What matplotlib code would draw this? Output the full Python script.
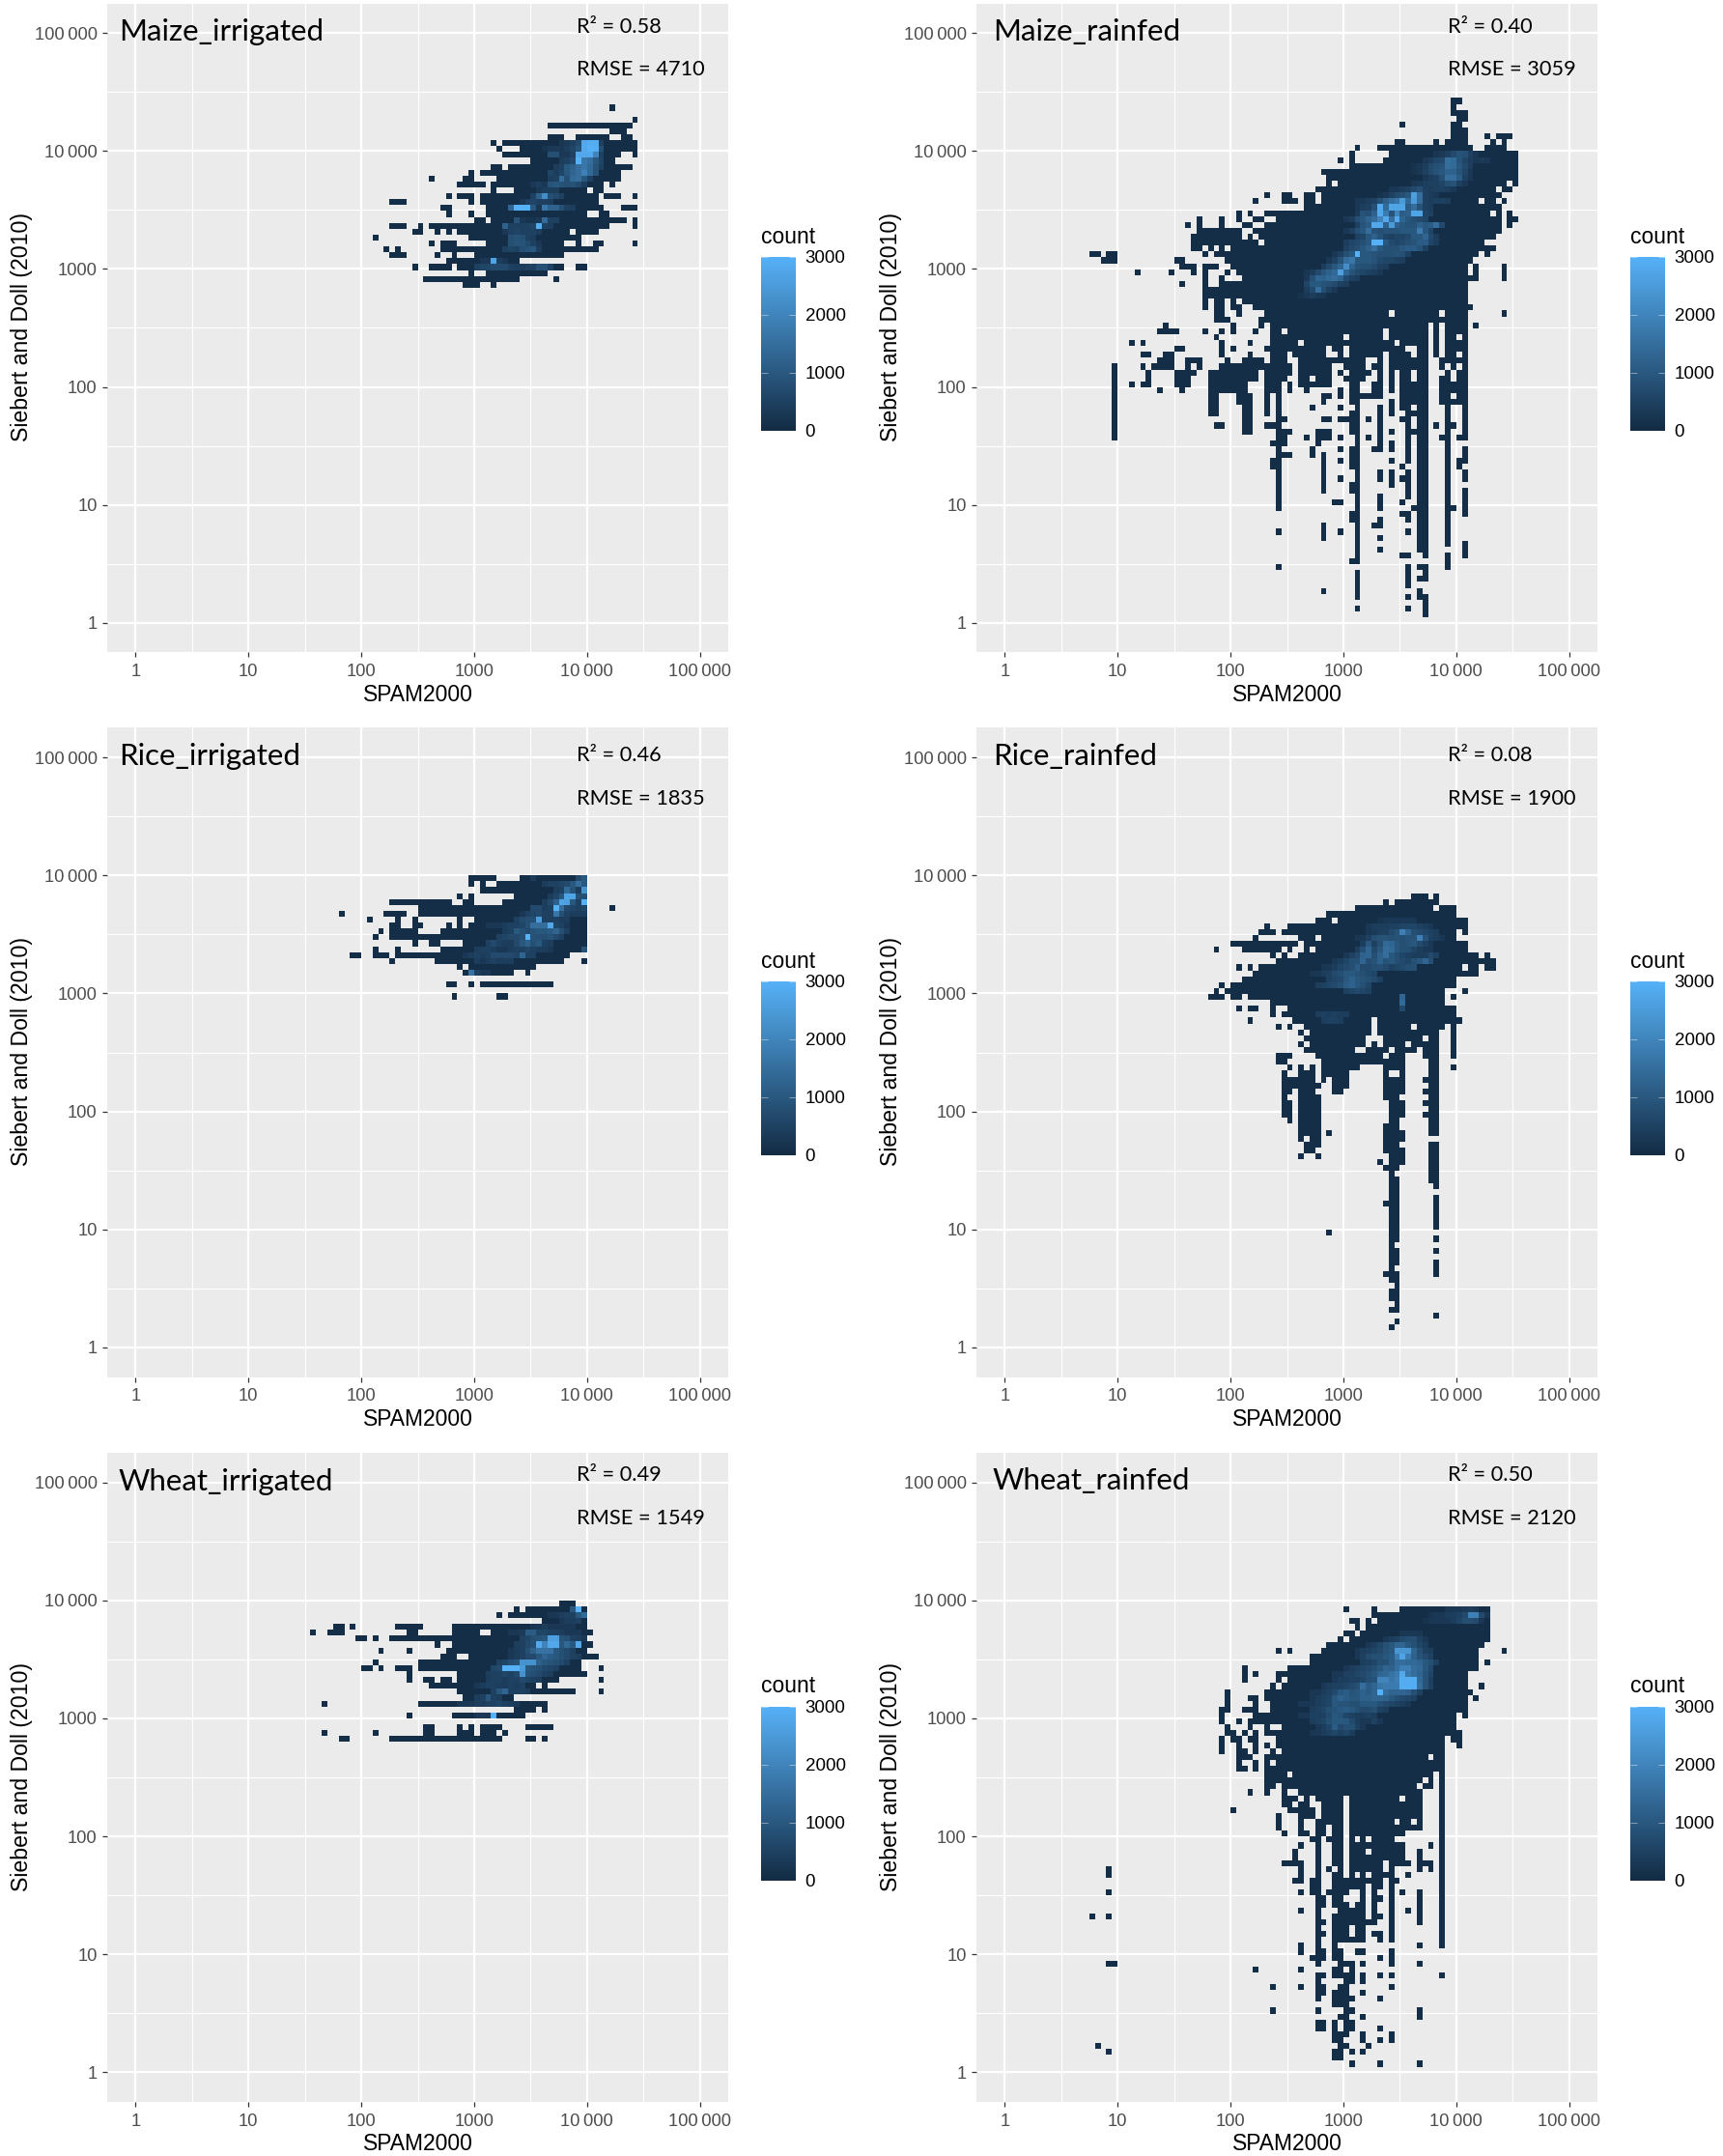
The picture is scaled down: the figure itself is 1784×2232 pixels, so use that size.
import numpy as np
import matplotlib
matplotlib.use('Agg')
from matplotlib import pyplot as plt
from matplotlib.colors import LinearSegmentedColormap
from matplotlib.ticker import NullFormatter

plt.rcParams['font.family'] = ['Liberation Sans', 'DejaVu Sans']

# every string lists the occupied bins of one row of the 2d histogram (top row first),
# bins are 0.05 log10 wide, bin 0 starts at x = 1
maize_irr_rows = [
    "84", "", "88", "73-87", "84-86", "73-75 78-83 86-87", "63 65-88", "64 68-88", "65-85 88", "70-84",
    "63-64 66-87", "59 61-85", "52 58-59 64-85", "57-61 63-82 84", "63 67-79 81-82",
    "55 57-59 61-81 83-85 88", "45-47 59 61-81", "54-55 62-82 86-88", "55 59 62-79 82-83",
    "60-61 63-86 88", "45-47 50 52-83 88", "49-50 53 55 57-76 78-81", "42 59-75 76-78",
    "52 54-56 62-75 78 81-82 88", "44 46 54-81", "45-47 53 56 60-75", "55-67", "49 52-55 57-75 78-79",
    "59 62-72", "51-67 74", "58-60 63",
]
maize_irr_hot = [
    (6, 75, [250, 350, 500, 700, 2800, 2900, 2900, 500]), (7, 72, [200, 350, 350, 300, 400, 600, 900, 2800, 3000, 2900, 800]),
    (8, 73, [800, 800, 300, 300, 500, 2800, 2800, 2800, 2000, 500]), (9, 75, [400, 500, 700, 3000, 1700, 1500, 1000, 600]),
    (10, 74, [400, 500, 1000, 1200, 1500, 1700, 1400, 900, 500]), (11, 73, [600, 400, 600, 1000, 1300, 1500, 1900, 1400, 900]),
    (12, 73, [400, 500, 1500, 800, 1400, 1500, 1000, 500]), (13, 70, [300, 400, 300, 900, 1000, 900, 800, 900, 700, 400]),
    (14, 71, [300, 400, 400, 400]), (15, 70, [500, 1200, 2200, 800, 700, 500]), (16, 68, [300, 500, 600, 500, 500, 400]),
    (17, 66, [1300, 3000, 3000, 3000, 1000, 300, 1700, 1200, 1200, 800, 500, 400]), (19, 67, [900, 300, 200, 200, 300, 1400, 500, 500]),
    (20, 65, [1200, 500, 500, 500, 500, 600, 2900, 500, 400]), (21, 65, [300, 500, 600, 500, 500, 500, 400]),
    (22, 66, [800, 900, 800, 500, 400]), (23, 66, [800, 900, 900, 700, 500, 300]), (24, 65, [500, 600, 500, 800, 900, 1000, 400]),
    (26, 61, [300, 300, 2700, 400, 300]), (27, 60, [500, 600, 600, 700, 700, 700, 500, 400, 400, 500, 500, 800, 800, 500]),
]

maize_rain_rows = [
    "79-80", "79", "79-81", "80-81", "70 79-80", "79-81", "79-81 85 87-89", "69-70 76 78-81 86 88",
    "62 66-82 85-88", "61 68-90", "59 61 67-90", "61-90", "56-90", "57-90", "57 59-88 90", "55-86 88-89",
    "46 49-50 53-54 56-87", "44 49-51 53-54 56-83 85-86 88", "53-87", "41 43 46-85 87 89",
    "34 38 41 44-45 48-87 89-90", "32 34 38 42-43 46-87 89", "34-41 44 45-87", "33-41 43 45-86",
    "33-44 46-84", "33-34 36 38 40-86", "15-16 18-19 35 37-83 85", "17-19 30-31 39-82", "31-33 35-37 40-81 83 88",
    "23 29 33 35 39 41-81 83 88", "35 38 42-83 88", "31 35 38-81", "35-81", "35-45 46-81", "35 37-38 40 42-81",
    "35 37-38 40-41 44-82", "37-38 41 46-67 69-76 78-81 88", "37-39 45-81", "28 40 45 47-74 76 78-81 83",
    "27-30 35 38 40 44 47-48 50-66 68-74 76 78-81", "37 47-59 61-66 68-74 76 78-79 81",
    "22 24 38 43 47-51 53-68 70-74 76 78-81", "30-31 38 40 46-56 58-59 61-70 73-74 76 78-81",
    "24-25 28-29 38 43 47-49 51-56 59 61-66 68-71 73-74 76 78-79 81", "27-29 32-34 39 42-45 47-49 52-63 66 68-74 77-81",
    "19 24 26-29 32 34 38-50 52-57 60-63 65-66 68-74 77 79 81",
    "19 25 30-33 36-44 46-50 52-57 59 61-64 66 68 70-71 73-74 78 80-81",
    "19 25 30-32 36-44 46-49 52-53 55-57 60-63 66 68 70-71 73-74 77-78 80-81",
    "19 22 24-25 30-32 36-42 46-48 50 52-57 61-62 65-66 68 70-74 77-81",
    "19 27 31 36-42 46-48 50 53 59 61-62 65-66 68 70-74 77-81",
    "19 36-37 41-43 46 48 56-57 59 61-66 70-74 77-78 80-81",
    "19 36-37 41-43 46 48 56 61-62 68 70-74 77-81",
    "19 36-37 42-43 46 48 54 59 62 66 68 70-71 73-74 78 81",
    "19 36-37 42-43 46 48 61-62 66 68 71-74 78 81",
    "19 42-43 48-49 56-57 59-62 64 66 70-71 73-74 78 81",
    "19 37-38 42-43 46-48 61-62 66 71 73-74 76 78-79 81",
    "19 42-43 48-50 55-57 61-62 66 68 71-74 78 81",
    "19 48-49 53 55-57 59 62 64 66 71 73-74 77-78 80-81",
    "47-49 55 62 66 68 71 73-74 78", "48 54 59 61-62 65-66 68 71 73-74 78 81",
    "48-50 54 56 61-62 71 73-74 78 81", "47-48 56 59 61-62 68 71 73-74 78 80-81",
    "47-48 56 61-62 70 73-74 78 80", "48 56 62 66 68 71 73-74 78 81", "48 56 59 62 66 68 70-71 73-74 78 81",
    "48 56 61-62 68 71 73-74 78", "48 56 61-62 71 73-74 78 81", "48 62 66 71 73-74 78 81",
    "48 58-59 62 66 70 73-74 78 81", "48 62 66 72-74 78-79 81", "61-62 70-71 73-74 78 81",
    "61-62 66 71 73-74 78", "56 62 65-66 73-74 78", "48 56 59 62 71 73-74 78", "56 62 66 73-74 78",
    "62 73-74 78 81", "62 66 73-74 81", "62 70-71 74 78 81", "61-62 78", "48 71 73-74 78", "62 71 74",
    "62 71 73-74", "62 71", "56 62 73", "62 71 73-74", "74", "62 71 74", "74",
]
maize_rain_hot = [
    (9, 76, [250, 350, 500, 700, 900, 800, 500, 300]), (10, 74, [300, 400, 600, 700, 1500, 1400, 900, 600, 400, 300, 350, 300]),
    (11, 72, [200, 300, 400, 700, 800, 900, 1500, 1400, 1000, 700, 400]), (12, 72, [200, 300, 500, 700, 900, 1000, 1200, 1200, 900, 600, 300]),
    (13, 74, [300, 400, 500, 800, 1500, 1500, 1100, 500, 300]), (14, 72, [250, 350, 450, 500, 500, 600, 800, 900, 500, 300]),
    (15, 68, [250, 300, 400, 500, 700, 800, 500, 400, 500, 500, 400, 300]), (16, 66, [200, 300, 500, 700, 800, 1000, 2600, 1500, 500, 400, 300]),
    (17, 62, [250, 300, 400, 500, 800, 1200, 1500, 1700, 2500, 1400, 2500, 1500, 500, 400, 500, 500, 400]),
    (18, 62, [300, 400, 500, 800, 2800, 1400, 2700, 2700, 2700, 1100, 1500, 900, 500, 400]),
    (19, 62, [350, 900, 800, 1200, 2800, 1800, 900, 2000, 1100, 1200, 2700, 2700, 600, 500]),
    (20, 60, [300, 400, 800, 1000, 1300, 1500, 2000, 2800, 1500, 2800, 1300, 1000, 800, 700, 600]),
    (21, 62, [500, 900, 1100, 2800, 2800, 1200, 2500, 1200, 1000, 900, 900, 1200, 1000, 1100, 1500, 700]),
    (22, 60, [300, 500, 800, 1000, 1500, 900, 800, 900, 900, 900, 1000, 1000, 1000, 1800, 1000, 600]),
    (23, 62, [500, 600, 1000, 1200, 900, 600, 500, 600, 600, 700, 1000, 1000, 1300, 700, 400]),
    (24, 60, [400, 600, 700, 800, 1000, 3000, 3000, 1000, 700, 600, 700, 800, 900, 1100, 1100, 600, 400]),
    (25, 60, [500, 700, 800, 1000, 1200, 1500, 1000, 800, 800, 800, 1000, 1100, 1100, 900, 500]),
    (26, 58, [300, 500, 800, 1000, 3000, 1000, 1000, 900, 800, 800, 800, 900, 800, 500]),
    (27, 57, [300, 500, 900, 1500, 1700, 1000, 1000, 1000, 900, 700, 600, 600, 500, 400]),
    (28, 56, [400, 700, 1000, 1300, 2200, 1200, 900, 800, 800, 700, 500, 400]),
    (29, 53, [250, 400, 700, 1000, 1200, 1400, 2600, 1300, 900, 700, 600, 500, 400, 300]),
    (30, 53, [300, 800, 1300, 1200, 1400, 1500, 1300, 700, 500, 400]), (31, 53, [600, 1000, 1000, 900, 800, 700, 500, 400]),
    (32, 53, [400, 700, 1500, 800, 500, 300]), (33, 52, [200, 300, 400, 300, 250]),
]

rice_irr_rows = [
    "59-63 68-79", "59 61 64-79", "61-79", "57 59 67-79", "45-55 58-59 65-79", "50-79 84", "36 44-47 50-79",
    "41 46 49 57 60-79", "45-46 49-50 55 57 59-79", "43 45-49 54-79", "42 45-53 54-79", "49 52-53 58-79",
    "42 46 54-79", "38-39 42-44 46-76", "45 53-75 79", "57 59-70", "58 59-66 69", "", "55-56 59 61-73", "", "56 64-65",
]
rice_irr_hot = [
    (0, 70, [350]), (0, 78, [700, 1000]), (1, 72, [400, 500, 500, 600, 700, 1000, 1500, 1000]),
    (2, 74, [400, 500, 1400, 900, 400, 2300]), (3, 73, [400, 600, 1000, 2700, 2700, 800, 800]),
    (4, 72, [400, 700, 1200, 2700, 2600, 1000, 500, 3000]), (5, 70, [700, 700, 400, 500, 3000, 1500, 700, 600, 500, 600]),
    (6, 68, [300, 500, 600, 700, 500, 500, 1700, 800, 500, 400, 400, 400]), (7, 67, [500, 700, 800, 800, 2500, 500, 500, 500, 400, 400]),
    (8, 62, [300, 300, 300, 400, 500, 500, 600, 800, 1500, 1500, 1500, 2800, 600, 500, 300]),
    (9, 65, [400, 500, 1000, 800, 700, 900, 1000, 1000, 1100, 1300, 800, 500]), (10, 64, [500, 600, 700, 700, 800, 3000, 900, 800, 800, 900, 700, 500]),
    (11, 62, [500, 700, 500, 400, 400, 700, 1000, 1200, 800, 1000, 500, 400]), (12, 60, [400, 500, 500, 400, 300, 300, 400, 500, 500, 600, 500, 400, 400, 300]),
    (12, 79, [900]), (13, 58, [300, 400, 500, 400, 500, 700, 700, 700, 700, 600, 1300, 500, 500]), (14, 60, [400, 300, 400, 500, 400, 400, 400]),
    (16, 59, [1600, 500, 300, 300]),
]

rice_rain_rows = [
    "72-74 76", "67 69-76", "62-75 77-79", "57-79", "55-57 59-81", "46 50-81", "45-47 49-79 81", "44 52-54 56-79",
    "40-51 53-81", "37 42-48 50 53 55-81", "47 49 52-83 85", "48-86", "41 43 45-80 82-83 85-86", "44-83", "42-79",
    "38 40-79", "37 39-77 81", "36-38 40-41 43-77 79", "47-77", "41 43-44 47 50-79", "47 49-79", "43 51-64 66-80",
    "48 50 53-64 66-71 73-77 79", "52 54-64 66-76 79", "53-63 67-73 75-76 79", "52 54-63 65 67-70 72-76 79",
    "53-61 64 65-67 69-72 74-76 79", "48-50 55-66 68-70 74-76 79", "48-49 56-70 75-76", "50 52 54 56-62 67-70 75-76 79",
    "49 52-54 56-60 67 70 75-76", "49-51 52-54 56 58-60 67-70 74-76", "49-55 58-60 67-70 75-76", "49-50 52-54 58-59 67-70 74-76",
    "49 52-55 67-69 75-76", "49-50 52-55 68-70 74-76", "49-50 52-55 68-70 75-76", "49-50 52-55 68-70 74-76",
    "50 52-55 68-69 75-76", "52-55 67-69 75-76", "52-55 57 67-70 75-76", "52 54-55 67-70", "53-55 67-69 75-76",
    "53-54 67-70 75-76", "52 55 68-70 75-76", "66 68-70 75-76", "67-69 75-76", "68 75-76", "68-69 75-76", "68-69 76",
    "68-69", "68-69 76", "67-69 76", "68-69 76", "68-69 76", "68-69 76", "68-69 76", "57 68-69", "68-69 76", "68",
    "68-69 76", "68-69", "68-69 76", "68 76", "67-69 76", "68-69", "69", "68-69", "68-69", "69", "68-69", "76", "69", "68",
]
rice_rain_hot = [
    (4, 66, [200, 250, 300, 300, 300, 300, 250]), (5, 64, [300, 400, 400, 400, 500, 500, 600, 600, 600, 500, 400, 300]),
    (6, 64, [300, 350, 450, 500, 700, 900, 1900, 1300, 800, 700, 600, 500, 400]),
    (7, 62, [250, 300, 500, 800, 900, 900, 800, 900, 800, 900, 900, 1900, 900, 500, 400, 300]),
    (8, 63, [400, 1000, 500, 800, 1400, 1300, 1000, 800, 900, 1000, 700, 500, 300]),
    (9, 62, [400, 800, 1300, 700, 1000, 1500, 1400, 1000, 800, 800, 600, 400, 300, 300]),
    (10, 60, [300, 500, 700, 1200, 1300, 800, 1200, 1500, 1000, 800, 600, 500, 400, 400, 400, 700, 500]),
    (11, 58, [300, 400, 600, 800, 800, 1300, 800, 900, 1200, 900, 1000, 800, 700, 600, 800, 1000, 1300, 800]),
    (12, 56, [250, 300, 400, 600, 700, 800, 1100, 700, 700, 800, 800, 700, 500, 600, 700, 800, 800]),
    (13, 54, [250, 300, 400, 500, 700, 800, 1000, 1000, 900, 800, 700, 600]), (14, 57, [500, 600, 700, 1000, 1200, 1000, 900, 800, 700, 500]),
    (15, 55, [400, 500, 600, 700, 800, 1100, 1200, 1000, 800, 600]), (16, 60, [500, 600, 700, 600, 500]),
    (17, 70, [1300]), (18, 70, [1400]), (19, 70, [700]), (20, 55, [400, 500, 400, 500, 400, 400]), (21, 56, [400, 500, 500, 400]),
]

wheat_irr_rows = [
    "75-77", "67 69-79", "64 66-78", "72-79", "35-36 38 46-50 56-79", "31 34-36 48-49 56-60 63-80", "39-40 42 45-79",
    "53 56-80", "43 48 55-79", "54-56 59-81", "42 50-78", "40-41 43 46-48 50-78 82", "48 57-79", "48 51-52 54-55 57-74 82",
    "52-56 57-70 72", "57-77 82", "58-66", "33 50-71 72", "67-70 72", "48 56-68", "", "51-52 57 59 61-64 69-73",
    "33 42 51-52 57-59 61-63 65", "36-37 45-64 69-70 72",
]
wheat_irr_hot = [
    (1, 77, [1000, 3000]), (2, 73, [250, 300, 400, 500, 500, 1000, 1400]), (3, 75, [300, 400, 400, 500]),
    (4, 70, [250, 300, 400, 300, 300, 300, 300, 300]), (5, 66, [250, 300, 350, 1100, 1100, 600, 600, 500, 500, 400, 300, 300, 300]),
    (6, 68, [500, 600, 800, 900, 1000, 2600, 2600, 900, 800, 500, 400, 300]),
    (7, 67, [400, 500, 700, 800, 2800, 2000, 2800, 2800, 1000, 1400, 1000, 2800]),
    (8, 66, [300, 400, 500, 800, 1200, 1600, 1600, 1600, 1000, 800, 700, 500]),
    (9, 66, [300, 400, 500, 700, 700, 1000, 1300, 1100, 1000, 800, 700, 500, 400]),
    (10, 64, [500, 600, 800, 900, 2300, 2300, 2300, 1200, 1000, 900, 800, 700, 500]),
    (11, 63, [600, 700, 3000, 3000, 3000, 2500, 1000, 900, 800, 700, 600, 500]),
    (12, 62, [400, 500, 500, 600, 500, 700, 2300, 900, 800, 700, 500, 400]), (13, 62, [400, 500, 500, 400, 500, 500, 700, 600, 500, 400]),
    (14, 60, [300, 400, 500, 500, 400, 400, 500, 400, 500]), (15, 63, [500, 1000, 1300, 500, 500, 500, 400]),
    (16, 60, [400, 500, 1000, 500, 400]), (17, 57, [250, 300, 300, 400, 400, 500, 500, 600, 500, 400, 350]),
    (19, 60, [300, 300, 300, 3000]),
]

wheat_rain_rows = [
    "60 65 70-85", "65-85", "61-62 64 66-85", "62 64-85", "60-61 63-85", "59 61-85", "57-84", "48 50 56-83 88",
    "54-83", "54-83 85", "42 50-83", "42 44 48-81", "42 48 50-81", "47 49-81 84", "39 46-82", "39 43-44 46-81 83",
    "39 44 47-81", "38-39 42-44 47-81", "38 44-79 81", "38 41 43-79", "39 43 46 49-79", "39-40 42 44 46-80",
    "38 40-41 43-44 48-77 79-80", "38 41 44 46 48-77 80", "38 41-42 44 47 49-77", "41-43 46-74 76-77",
    "41 44 46 48-77", "41-42 44 46-77", "46-49 51-75 77", "46-73 75 77", "46-47 49-72 74-75 77", "43 46 49 52-73 77",
    "49-51 53 55-59 61-69 71-73 77", "49-50 52-53 56-59 61-73 77", "40 50-54 56-59 61-73 77", "48 52-54 56-59 61-73 77",
    "48 52 55-59 61-68 70-71 73 77", "48 52 55-56 58-59 61-73 77", "49 52-53 55-56 58-59 61-70 77",
    "54-55 57-59 61 63 65-68 77", "52 55 58-59 61-70 75 77", "51 55 58-59 61-63 65-70 73 77", "51 55 58-59 61-70 73 77",
    "49-52 55 58-59 61-66 68-71 73-75 77", "18 52 55 57 59 61-66 68 73 75 77", "18 52 55 58-59 61 63 65-68 71 77",
    "51-52 54-55 58-66 68-69 77", "54-55 58-63 65-66 68 77", "18 52 54-55 57-60 63 65 68 70 73 77",
    "55-56 58-59 63 65-66 68 73 77", "55-56 58-60 62-63 65 68 73 77", "52 55 59-63 65 68 71 73 77",
    "15 18 55 58-63 65-66 68 73 77", "55-56 58-65 68 73 77", "55 58-60 62-63 68 77", "55-56 58-60 62-63 65-66 68 77",
    "55 58-63 66 68 77", "52 55 58 73 77", "52 55-56 58-59 62-63 68", "54-56 58-59 66 68", "18-19 55 59-61 63 68 73",
    "44 52 58-59 61", "55-56 58-61 63 66 68 77", "55 60-61 63", "47 52 55-56 59-60 68", "55-56 58-60 63", "55 58-61 66",
    "58-60", "47 55 60-61 73", "59-60 63 73", "55-56 58 60-61", "55-56 58 60-61 66", "58-60 63 68", "58-59 63 66 68",
    "16 59-60 64", "18 58-59 61 63", "58-59", "61 66 73",
]
wheat_rain_hot = [
    (0, 78, [250, 300, 300, 350, 400, 300]), (1, 75, [200, 300, 300, 400, 400, 500, 700, 1900, 1900, 700, 300]),
    (2, 74, [200, 300, 300, 300, 300, 400, 600, 800, 800, 700, 300]),
    (4, 70, [250, 300, 300, 250]), (5, 67, [300, 400, 500, 700, 800, 800, 500, 300]),
    (6, 64, [300, 400, 600, 800, 1000, 1300, 1300, 1000, 800, 600, 400]),
    (7, 62, [300, 400, 500, 600, 700, 900, 1000, 2400, 2400, 2400, 1300, 800, 500, 400]),
    (8, 62, [300, 500, 700, 800, 800, 1000, 1100, 1800, 2700, 1800, 1200, 900, 700, 500]),
    (9, 63, [400, 500, 600, 800, 800, 1100, 1500, 1500, 1400, 1400, 1300, 1000, 800, 500]),
    (10, 60, [300, 400, 500, 600, 700, 800, 1000, 1300, 1200, 1500, 1900, 1900, 1500, 1400, 1000, 700]),
    (11, 58, [300, 300, 500, 500, 600, 700, 800, 1000, 1300, 1400, 1600, 1800, 2800, 1700, 1500, 1300, 900, 600]),
    (12, 58, [300, 400, 400, 500, 500, 600, 800, 900, 2000, 2000, 1700, 1900, 2900, 2900, 2900, 1400, 900, 500]),
    (13, 56, [300, 400, 500, 500, 600, 700, 800, 1500, 1100, 1300, 1700, 1800, 1800, 1800, 2900, 2900, 2900, 1500, 900, 500]),
    (14, 54, [250, 300, 400, 500, 700, 1000, 1100, 900, 1000, 1200, 1100, 1300, 3000, 1500, 1300, 1300, 1300, 1200, 800, 500]),
    (15, 54, [300, 400, 500, 600, 1000, 1200, 1100, 1000, 1000, 1200, 1200, 1300, 1300, 1200, 1000, 800, 700, 600, 500]),
    (16, 52, [250, 300, 300, 400, 500, 600, 1000, 900, 900, 800, 800, 1000, 1000, 1000, 800, 700, 600, 500, 400, 300]),
    (17, 54, [400, 500, 600, 800, 900, 1000, 1100, 1000, 800, 700, 700, 800, 500, 400]),
    (18, 52, [300, 300, 500, 500, 500, 700, 1000, 900, 600, 500, 400, 400, 500, 400]),
    (19, 54, [400, 500, 600, 800, 1000, 1000, 1000, 700, 400, 300, 300, 500, 300]),
    (20, 55, [300, 400, 600, 1100, 700, 800, 800, 500, 300]), (21, 54, [250, 300, 400, 500, 600, 500, 600, 400]),
]

names = ['Maize_irrigated', 'Maize_rainfed', 'Rice_irrigated', 'Rice_rainfed', 'Wheat_irrigated', 'Wheat_rainfed']
r2_labels = ['0.58', '0.40', '0.46', '0.08', '0.49', '0.50']
rmse_labels = ['4710', '3059', '1835', '1900', '1549', '2120']
all_rows = [maize_irr_rows, maize_rain_rows, rice_irr_rows, rice_rain_rows, wheat_irr_rows, wheat_rain_rows]
all_hot = [maize_irr_hot, maize_rain_hot, rice_irr_hot, rice_rain_hot, wheat_irr_hot, wheat_rain_hot]
top_edges = [4.391, 4.448, 4.0, 3.845, 4.0, 3.948]  # log10 of the upper edge of row 0
base_count = 80

tick_values = [1, 10, 100, 1000, 10000, 100000]
tick_labels = ['1', '10', '100', '1000', '10\u2009000', '100\u2009000']
half_decades = [10 ** 0.5, 10 ** 1.5, 10 ** 2.5, 10 ** 3.5, 10 ** 4.5]

W, H = 1784, 2232
fig = plt.figure(figsize=(W / 100, H / 100), dpi=100, facecolor='white')
cmap = LinearSegmentedColormap.from_list('gg', ['#132B43', '#56B1F7'])
lefts = [111, 1011]
tops = [3.5, 753.5, 1504]
note_shift = [1, 5, 0]  # the note block sits a little lower in the middle row
pw, ph = 643, 672


def box(x, y, w, h):
    return [x / W, 1 - (y + h) / H, w / W, h / H]


def ftext(x, y, s, **kw):
    fig.text(x / W, 1 - y / H, s, **kw)


def to_grid(rows, hot):
    grid = np.full((len(rows), 110), np.nan)
    for r, row in enumerate(rows):
        for part in row.split():
            a, _, b = part.partition('-')
            grid[r, int(a):int(b or a) + 1] = base_count
    for r, c, vals in hot:
        grid[r, c:c + len(vals)] = vals
    return grid


for i in range(6):
    left = lefts[i % 2]
    top = tops[i // 2]
    ax = fig.add_axes(box(left, top, pw, ph), facecolor='#EBEBEB')
    grid = to_grid(all_rows[i], all_hot[i])
    x_edges = 10 ** (np.arange(grid.shape[1] + 1) * 0.05)
    y_edges = 10 ** (top_edges[i] - np.arange(grid.shape[0] + 1) * 0.05)
    mesh = ax.pcolormesh(x_edges, y_edges, grid, cmap=cmap, vmin=0, vmax=3000, antialiased=False)
    ax.set_xscale('log')
    ax.set_yscale('log')
    ax.set_xlim(10 ** -0.25, 10 ** 5.25)
    ax.set_ylim(10 ** -0.25, 10 ** 5.25)
    ax.set_xticks(tick_values, labels=tick_labels)
    ax.set_yticks(tick_values, labels=tick_labels)
    ax.set_xticks(half_decades, minor=True)
    ax.set_yticks(half_decades, minor=True)
    ax.xaxis.set_minor_formatter(NullFormatter())
    ax.yaxis.set_minor_formatter(NullFormatter())
    ax.set_axisbelow(True)
    ax.grid(True, which='major', color='white', lw=1.6)
    ax.grid(True, which='minor', color='white', lw=0.8)
    ax.tick_params(which='major', length=3.5, width=0.9, color='#333333', labelcolor='#4D4D4D', labelsize=13.2)
    ax.tick_params(axis='x', which='major', pad=5)
    ax.tick_params(axis='y', which='major', pad=4)
    ax.tick_params(which='minor', length=0)
    for s in ax.spines.values():
        s.set_visible(False)

    ftext(left + 322, top + 716, 'SPAM2000', fontsize=16.5, ha='center', va='center', color='black')
    ftext(left - 88, top + 335, 'Siebert and Doll (2010)', fontsize=16.7, rotation=90, ha='center', va='center', color='black')

    title_x = 123 if i % 2 == 0 else 1028
    note_x = 597 if i % 2 == 0 else 1499
    ftext(title_x, top + 29.5, names[i], family='Lato', fontsize=22.5, ha='left', va='center', color='black')
    ftext(note_x, top + 23 + note_shift[i // 2], 'R\u00b2 = ' + r2_labels[i], family='Lato', fontsize=15.7, ha='left', va='center', color='black')
    ftext(note_x, top + 68 + note_shift[i // 2], 'RMSE = ' + rmse_labels[i], family='Lato', fontsize=15.7, ha='left', va='center', color='black')

    # legend
    cax = fig.add_axes(box(left + 677, top + 262.5, 36, 180))
    cb = fig.colorbar(mesh, cax=cax, ticks=[0, 1000, 2000, 3000])
    cb.outline.set_visible(False)
    cb.ax.tick_params(direction='in', color='#FFFFFF80', length=5, width=0.6, left=True, right=True,
                      labelcolor='black', labelsize=13.5, pad=7)
    ftext(left + 677, top + 242, 'count', fontsize=16.5, ha='left', va='center', color='black')

fig.savefig('out.png', dpi=100)
